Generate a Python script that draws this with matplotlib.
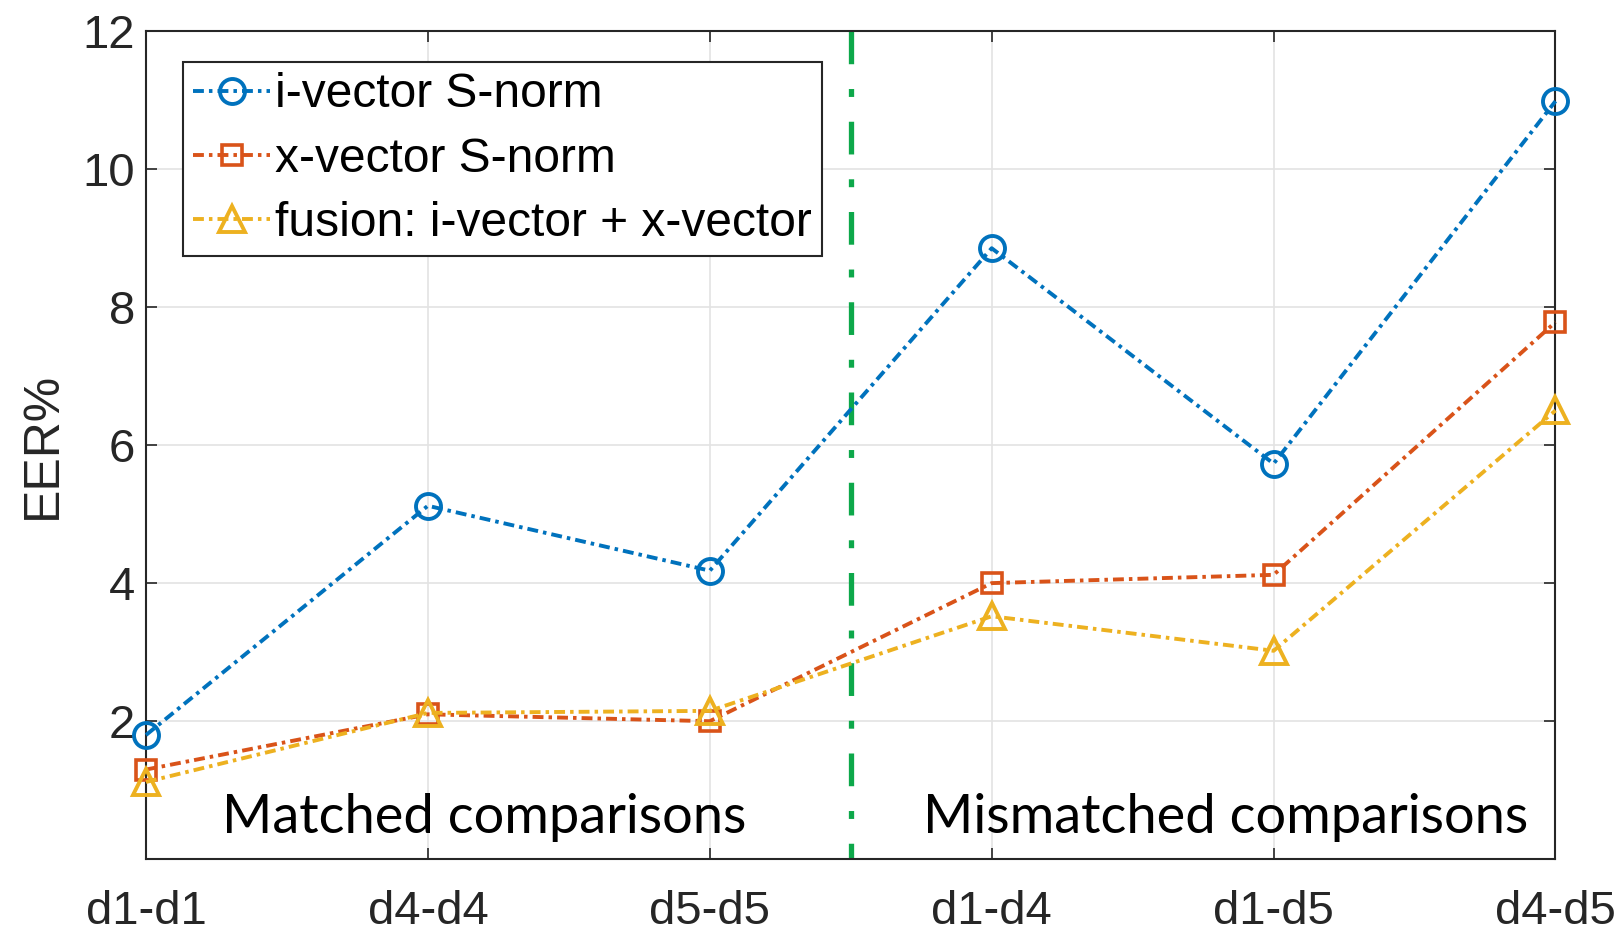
import matplotlib.pyplot as plt
import numpy as np

plt.rcParams['font.family'] = ['Liberation Sans', 'DejaVu Sans']

pairs = ['d1-d1', 'd4-d4', 'd5-d5', 'd1-d4', 'd1-d5', 'd4-d5']
ivec = [1.8, 5.12, 4.18, 8.85, 5.73, 10.98]
xvec = [1.3, 2.1, 2.0, 4.0, 4.12, 7.78]
fusion = [1.12, 2.12, 2.15, 3.52, 3.02, 6.5]
yticks = [2, 4, 6, 8, 10, 12]

x = np.arange(len(pairs))

fig = plt.figure(figsize=(16.22, 9.31), dpi=100)
ax = fig.add_axes([0.090, 0.077, 0.869, 0.890])

dash = (0, (2.8, 1.3, 0.9, 1.3))
common = dict(linestyle=dash, lw=2.8, mfc='none', clip_on=False, zorder=3)
ax.plot(x, ivec, color='#0072BD', marker='o', ms=18, mew=2.8,
        label='i-vector S-norm', **common)
ax.plot(x, xvec, color='#D95319', marker='s', ms=15, mew=2.6,
        label='x-vector S-norm', **common)
ax.plot(x, fusion, color='#EDB120', marker='^', ms=19, mew=2.8,
        label='fusion: i-vector + x-vector', **common)

# separator between matched and mismatched pairs
ax.plot([2.5, 2.5], [12, 0], color='#0DA84A', lw=3.8,
        linestyle=(0, (6.2, 4.7, 1.5, 4.7)), zorder=2)

ax.text(1.2, 0.6, 'Matched comparisons', family=['Lato', 'DejaVu Sans'],
        fontsize=39, ha='center', va='center')
ax.text(3.83, 0.6, 'Mismatched comparisons', family=['Lato', 'DejaVu Sans'],
        fontsize=39, ha='center', va='center')

ax.set_xlim(0, 5)
ax.set_ylim(0, 12)
ax.set_xticks(x)
ax.set_xticklabels(pairs)
ax.set_yticks(yticks)
ax.set_ylabel('EER%', fontsize=36, color='#262626', labelpad=12)
ax.grid(True, color='#e3e3e3', lw=1.2)
ax.tick_params(direction='in', length=8, width=1.2, colors='#262626',
               labelsize=34, top=True, right=True)
ax.tick_params(axis='x', pad=22)
ax.tick_params(axis='y', pad=8)
for s in ax.spines.values():
    s.set_color('#262626')
    s.set_linewidth(1.5)

leg = ax.legend(loc='upper left', bbox_to_anchor=(0.026, 0.9625), fontsize=34.5,
                frameon=True, fancybox=False, edgecolor='#262626', framealpha=1,
                handlelength=1.6, handletextpad=0.1, borderpad=0.22,
                labelspacing=0.4, borderaxespad=0)
leg.get_frame().set_linewidth(1.5)

plt.savefig('out.png', dpi=100)
